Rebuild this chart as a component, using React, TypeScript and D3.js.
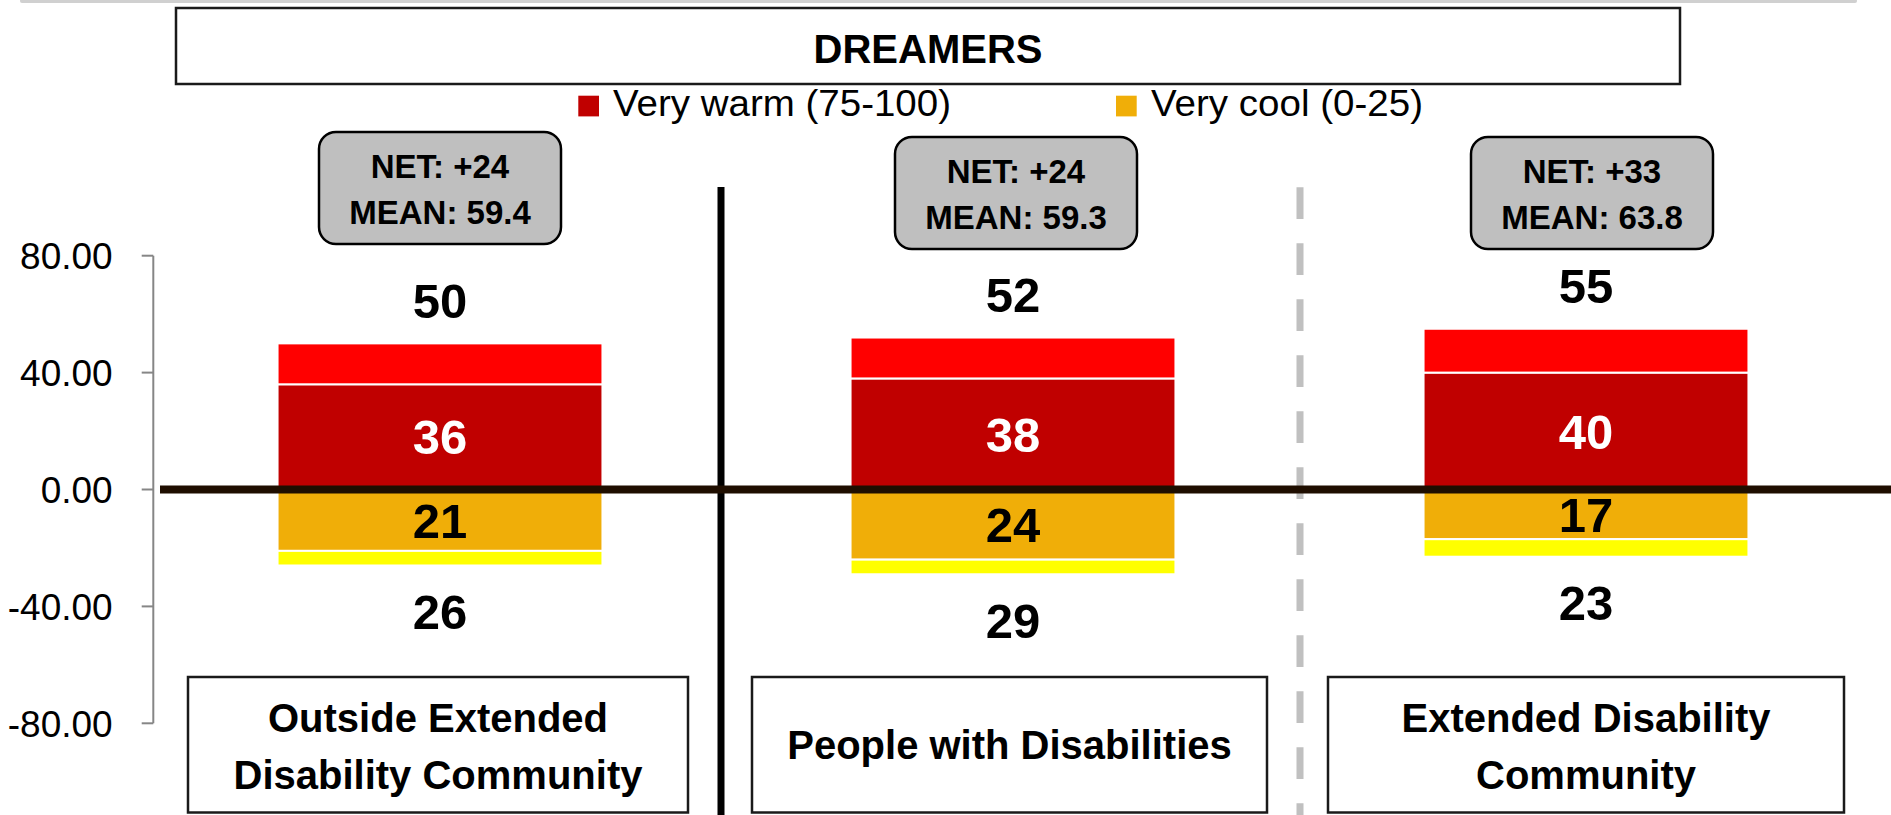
import React from "react";
import * as d3 from "d3";

// ---------- data ----------
const categories = [
  "Outside Extended|Disability Community",
  "People with Disabilities",
  "Extended Disability|Community",
];
const veryWarm = [36, 38, 40];
const warmTotal = [50, 52, 55];
const veryCool = [21, 24, 17];
const coolTotal = [26, 29, 23];
const netScores = ["+24", "+24", "+33"];
const means = ["59.4", "59.3", "63.8"];
const yTicks = [80, 40, 0, -40, -80];
const legendLabels = ["Very warm (75-100)", "Very cool (0-25)"];
const chartTitle = "DREAMERS";

// ---------- layout ----------
const W = 1891;
const H = 815;
const FONT = "'Liberation Sans', Arial, sans-serif";
const C = {
  warmDark: "#C00000",
  warmBright: "#FF0000",
  coolDark: "#F0AE08",
  coolBright: "#FFFF00",
  zero: "#1F0E00",
  axis: "#868686",
  box: "#BFBFBF",
  dash: "#C0C0C0",
};
const netBoxTop = [132, 137, 137];
const netBoxDx = [0, 3, 6];
const labelBoxDx = [-2, -3.5, 0];
const labelBoxW = [500, 515, 516];

const fmtTick = (t: number) => d3.format(".2f")(t).replace("\u2212", "-");

export default function App() {
  const y = d3.scaleLinear().domain([-80, 80]).range([723.3, 255.7]);
  const x = d3
    .scaleBand<string>()
    .domain(categories)
    .range([153.5, 1872.5])
    .paddingInner(0.433)
    .paddingOuter(0.2165);
  const bw = x.bandwidth();
  const valFont = 49;
  const cap = (fs: number) => fs * 0.358;

  const segs = categories.flatMap((c, i) => [
    { c, i, y0: 0, y1: veryWarm[i], fill: C.warmDark },
    { c, i, y0: veryWarm[i], y1: warmTotal[i], fill: C.warmBright },
    { c, i, y0: 0, y1: -veryCool[i], fill: C.coolDark },
    { c, i, y0: -veryCool[i], y1: -coolTotal[i], fill: C.coolBright },
  ]);

  const axisX = 153.3;

  return (
    <div style={{ position: "absolute", left: 0, top: 0, width: W, height: H, overflow: "hidden", background: "#fff" }}>
      <svg width={W} height={H} style={{ display: "block", fontFamily: FONT }}>
        {/* top grey edge */}
        <line x1={22} x2={1855} y1={1} y2={1} stroke="#d0d0d0" strokeWidth={4} strokeLinecap="round" />

        {/* title box */}
        <rect x={176} y={8} width={1504} height={76} fill="#fff" stroke="#1a1a1a" strokeWidth={2.5} />
        <text x={928} y={62.5} textAnchor="middle" fontSize={40} fontWeight="bold" fill="#000">
          {chartTitle}
        </text>

        {/* legend */}
        {[
          { sx: 578.3, tx: 613, col: C.warmDark, len: 338 },
          { sx: 1116, tx: 1151, col: C.coolDark, len: 272 },
        ].map((l, k) => (
          <g key={k}>
            <rect x={l.sx} y={95.7} width={20.7} height={20.7} fill={l.col} />
            <text x={l.tx} y={116} fontSize={37} fill="#000" textLength={l.len} lengthAdjust="spacingAndGlyphs">
              {legendLabels[k]}
            </text>
          </g>
        ))}

        {/* separators */}
        <line x1={721} x2={721} y1={187} y2={H} stroke="#000" strokeWidth={7} />
        <line x1={1300} x2={1300} y1={187.3} y2={H} stroke={C.dash} strokeWidth={7} strokeDasharray="31.7 24.3" />

        {/* y axis */}
        <line x1={axisX} x2={axisX} y1={y(80)} y2={y(-80)} stroke={C.axis} strokeWidth={2} />
        {yTicks.map((t) => (
          <g key={t}>
            <line x1={141.7} x2={axisX} y1={y(t)} y2={y(t)} stroke={C.axis} strokeWidth={2} />
            <text x={112.7} y={y(t) + cap(37)} textAnchor="end" fontSize={37} fill="#000">
              {fmtTick(t)}
            </text>
          </g>
        ))}

        {/* bars */}
        {segs.map((s, k) => (
          <rect
            key={k}
            x={x(s.c)!}
            width={bw}
            y={Math.min(y(s.y0), y(s.y1))}
            height={Math.abs(y(s.y0) - y(s.y1))}
            fill={s.fill}
            stroke="#fff"
            strokeWidth={2}
          />
        ))}

        {/* zero line */}
        <line x1={160} x2={W} y1={y(0)} y2={y(0)} stroke={C.zero} strokeWidth={8} />

        {/* value labels */}
        {categories.map((c, i) => {
          const cx = x(c)! + bw / 2;
          return (
            <g key={c} fontWeight="bold" fontSize={valFont} textAnchor="middle">
              <text x={cx} y={(y(0) + y(veryWarm[i])) / 2 + cap(valFont)} fill="#fff">
                {veryWarm[i]}
              </text>
              <text x={cx} y={(y(0) + y(-veryCool[i])) / 2 + cap(valFont)} fill="#000">
                {veryCool[i]}
              </text>
              <text x={cx} y={y(warmTotal[i]) - 43 + cap(valFont)} fill="#000">
                {warmTotal[i]}
              </text>
              <text x={cx} y={y(-coolTotal[i]) + 46 + cap(valFont)} fill="#000">
                {coolTotal[i]}
              </text>
            </g>
          );
        })}

        {/* NET / MEAN boxes */}
        {categories.map((c, i) => {
          const cx = x(c)! + bw / 2 + netBoxDx[i];
          const top = netBoxTop[i];
          return (
            <g key={c}>
              <rect x={cx - 121} y={top} width={242} height={112} rx={17} ry={17} fill={C.box} stroke="#000" strokeWidth={2.5} />
              <text x={cx} y={top + 46} textAnchor="middle" fontSize={33} fontWeight="bold" fill="#000">
                {`NET: ${netScores[i]}`}
              </text>
              <text x={cx} y={top + 92} textAnchor="middle" fontSize={33} fontWeight="bold" fill="#000">
                {`MEAN: ${means[i]}`}
              </text>
            </g>
          );
        })}

        {/* category label boxes */}
        {categories.map((c, i) => {
          const cx = x(c)! + bw / 2 + labelBoxDx[i];
          const w = labelBoxW[i];
          const lines = c.split("|");
          const mid = 744.5;
          const base = lines.length === 1 ? [mid + 14] : [mid - 12.5, mid + 44.5];
          return (
            <g key={c}>
              <rect x={cx - w / 2} y={677} width={w} height={135.5} fill="#fff" stroke="#1a1a1a" strokeWidth={2.5} />
              {lines.map((ln, j) => (
                <text key={j} x={cx} y={base[j]} textAnchor="middle" fontSize={40} fontWeight="bold" fill="#000">
                  {ln}
                </text>
              ))}
            </g>
          );
        })}
      </svg>
    </div>
  );
}
